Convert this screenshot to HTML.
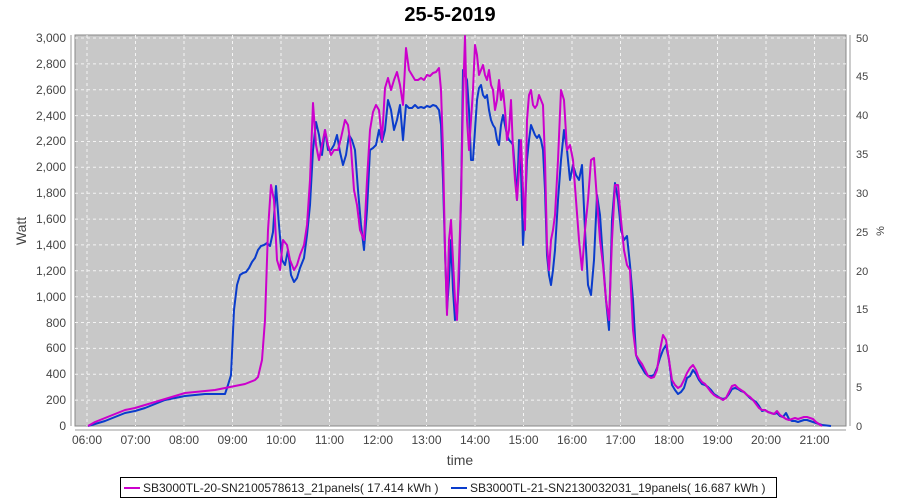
<!DOCTYPE html>
<html><head><meta charset="utf-8"><style>
html,body{margin:0;padding:0;background:#fff;}
svg{display:block;font-family:"Liberation Sans",sans-serif;}
</style></head><body>
<svg width="900" height="500" viewBox="0 0 900 500">
<text x="450" y="21" text-anchor="middle" font-size="20" font-weight="bold" fill="#000">25-5-2019</text>
<rect x="75" y="35" width="771" height="391" fill="#c8c8c8" stroke="#888" stroke-width="1"/>
<g stroke="#f4f4f4" stroke-width="1" stroke-dasharray="3,3">
<line x1="87" y1="35" x2="87" y2="426"/><line x1="135.5" y1="35" x2="135.5" y2="426"/><line x1="184" y1="35" x2="184" y2="426"/><line x1="232.5" y1="35" x2="232.5" y2="426"/><line x1="281" y1="35" x2="281" y2="426"/><line x1="329.5" y1="35" x2="329.5" y2="426"/><line x1="378" y1="35" x2="378" y2="426"/><line x1="426.5" y1="35" x2="426.5" y2="426"/><line x1="475" y1="35" x2="475" y2="426"/><line x1="523.5" y1="35" x2="523.5" y2="426"/><line x1="572" y1="35" x2="572" y2="426"/><line x1="620.5" y1="35" x2="620.5" y2="426"/><line x1="669" y1="35" x2="669" y2="426"/><line x1="717.5" y1="35" x2="717.5" y2="426"/><line x1="766" y1="35" x2="766" y2="426"/><line x1="814.5" y1="35" x2="814.5" y2="426"/>
<line x1="75" y1="400.1" x2="846" y2="400.1"/><line x1="75" y1="374.3" x2="846" y2="374.3"/><line x1="75" y1="348.4" x2="846" y2="348.4"/><line x1="75" y1="322.5" x2="846" y2="322.5"/><line x1="75" y1="296.7" x2="846" y2="296.7"/><line x1="75" y1="270.8" x2="846" y2="270.8"/><line x1="75" y1="244.9" x2="846" y2="244.9"/><line x1="75" y1="219.1" x2="846" y2="219.1"/><line x1="75" y1="193.2" x2="846" y2="193.2"/><line x1="75" y1="167.3" x2="846" y2="167.3"/><line x1="75" y1="141.5" x2="846" y2="141.5"/><line x1="75" y1="115.6" x2="846" y2="115.6"/><line x1="75" y1="89.7" x2="846" y2="89.7"/><line x1="75" y1="63.9" x2="846" y2="63.9"/><line x1="75" y1="38" x2="846" y2="38"/>
</g>
<g stroke="#999" stroke-width="1" fill="none">
<line x1="71" y1="35" x2="71" y2="426"/>
<line x1="75" y1="430" x2="846" y2="430"/>
<line x1="850" y1="35" x2="850" y2="426"/>
</g>
<g font-size="12" fill="#444" text-anchor="end">
<text x="66" y="430">0</text><text x="66" y="404">200</text><text x="66" y="378">400</text><text x="66" y="352">600</text><text x="66" y="327">800</text><text x="66" y="301">1,000</text><text x="66" y="275">1,200</text><text x="66" y="249">1,400</text><text x="66" y="223">1,600</text><text x="66" y="197">1,800</text><text x="66" y="171">2,000</text><text x="66" y="145">2,200</text><text x="66" y="120">2,400</text><text x="66" y="94">2,600</text><text x="66" y="68">2,800</text><text x="66" y="42">3,000</text>
</g>
<g font-size="11" fill="#444">
<text x="856" y="430">0</text><text x="856" y="391">5</text><text x="856" y="352">10</text><text x="856" y="313">15</text><text x="856" y="275">20</text><text x="856" y="236">25</text><text x="856" y="197">30</text><text x="856" y="158">35</text><text x="856" y="119">40</text><text x="856" y="80">45</text><text x="856" y="42">50</text>
</g>
<g font-size="12" fill="#444" text-anchor="middle">
<text x="87" y="444">06:00</text><text x="135.5" y="444">07:00</text><text x="184" y="444">08:00</text><text x="232.5" y="444">09:00</text><text x="281" y="444">10:00</text><text x="329.5" y="444">11:00</text><text x="378" y="444">12:00</text><text x="426.5" y="444">13:00</text><text x="475" y="444">14:00</text><text x="523.5" y="444">15:00</text><text x="572" y="444">16:00</text><text x="620.5" y="444">17:00</text><text x="669" y="444">18:00</text><text x="717.5" y="444">19:00</text><text x="766" y="444">20:00</text><text x="814.5" y="444">21:00</text>
</g>
<text x="460" y="465" text-anchor="middle" font-size="14" fill="#444">time</text>
<text transform="translate(26,231) rotate(-90)" text-anchor="middle" font-size="14" fill="#444">Watt</text>
<text transform="translate(884,231) rotate(-90)" text-anchor="middle" font-size="11" fill="#444">%</text>
<polyline fill="none" stroke="#0a3ccc" stroke-width="2" stroke-linejoin="round" points="88,426 95,424 105,421 115,417 125,413 135,411 145,408 155,404 165,400 175,398 185,396 195,395 205,394 215,394 225,394 228,385 231,375 234,310 237,285 240,275 243,273 246,272 249,268 252,262 255,258 258,250 261,246 264,245 267,243 270,246 273,232 276,186 279,225 282,260 285,265 288,250 291,275 294,282 297,278 300,268 304,258 307,235 310,205 313,150 316,122 319,135 322,155 325,130 328,150 331,150 334,145 337,135 340,152 343,165 346,155 349,135 352,140 355,150 358,190 361,225 364,250 367,210 370,150 373,148 376,145 379,130 382,142 385,130 388,100 391,110 394,130 397,120 400,105 403,140 406,105 409,108 412,108 415,105 418,108 421,107 424,108 427,106 430,107 433,105 436,106 439,110 441,125 443,180 445,250 447,310 449,280 451,240 453,290 455,320 457,315 459,280 461,200 463,70 465,75 467,80 469,110 471,160 473,160 475,130 477,100 479,88 481,85 483,95 485,98 487,95 489,110 491,120 493,125 495,128 497,140 499,145 501,125 503,115 505,125 507,135 509,140 511,142 513,145 515,170 517,200 519,140 521,170 523,245 525,210 527,160 529,140 531,125 533,130 535,135 537,138 539,135 541,140 543,150 545,190 547,255 549,275 551,285 553,270 555,250 558,200 561,160 564,130 567,150 570,180 573,165 576,175 579,180 582,165 585,230 588,285 591,295 594,260 597,195 600,215 603,260 606,300 609,330 612,220 615,183 618,200 621,230 624,240 627,236 630,265 633,300 636,355 639,363 642,368 645,373 648,376 651,376 654,375 657,368 660,358 663,350 666,345 669,360 672,385 675,390 678,394 681,392 684,388 687,378 690,376 693,370 696,374 699,380 702,384 705,385 708,387 711,390 714,394 717,396 720,398 723,399 726,398 729,394 732,389 735,388 738,389 741,391 744,392 747,395 750,398 753,400 756,402 759,406 762,411 765,410 768,412 771,413 774,414 777,413 780,416 783,417 786,413 789,419 792,421 795,421 798,422 801,421 804,420 807,420 810,421 813,422 816,423 819,424 822,425 831,426"/>
<polyline fill="none" stroke="#cc00cc" stroke-width="2" stroke-linejoin="round" points="88,426 95,422 105,418 115,414 125,410 135,408 145,405 155,402 165,399 175,396 185,393 195,392 205,391 215,390 225,388 235,386 245,384 255,380 258,377 262,360 265,320 268,230 271,185 274,200 277,260 280,270 283,240 287,245 290,260 294,270 297,265 300,255 304,245 307,225 310,180 313,103 316,145 319,160 322,145 325,130 328,145 331,155 334,150 338,150 341,138 345,120 348,125 351,148 354,190 357,205 360,230 364,240 367,180 370,130 373,112 376,105 379,110 382,140 385,88 388,78 391,90 394,80 397,72 400,85 403,105 406,48 409,70 412,75 415,80 418,80 421,78 424,80 427,75 430,76 433,73 436,72 439,68 441,90 443,150 445,250 447,315 449,240 451,220 453,260 455,300 457,320 459,260 461,200 463,100 465,36 467,120 469,150 471,120 473,90 475,45 477,55 479,75 481,70 483,65 485,75 487,80 489,70 491,85 493,90 495,110 497,100 499,80 501,100 503,90 505,110 507,140 509,130 511,100 513,150 515,180 517,200 519,170 521,140 523,190 525,230 527,120 529,95 531,90 533,105 535,108 537,105 539,95 541,100 543,105 545,160 547,245 549,270 551,240 553,230 555,215 558,160 561,90 564,100 567,150 570,145 573,160 576,200 579,240 582,270 585,230 588,200 591,160 594,158 597,200 600,240 603,265 606,300 609,320 612,240 615,185 618,185 621,220 624,250 627,265 630,270 633,330 636,355 639,360 642,364 645,370 648,376 651,378 654,377 657,370 660,350 663,335 666,340 669,360 672,380 675,385 678,388 681,386 684,380 687,373 690,368 693,365 696,370 699,378 702,382 705,384 708,388 711,392 714,395 717,397 720,398 723,400 726,398 729,392 732,386 735,385 738,388 741,390 744,392 747,395 750,397 753,400 756,404 759,408 762,410 765,410 768,412 771,413 774,414 777,411 780,415 783,417 786,419 789,420 792,419 795,418 798,419 801,418 804,417 807,417 810,418 813,419 816,422 819,424 822,426"/>
<rect x="120.5" y="477.5" width="656" height="20" fill="#fff" stroke="#000" stroke-width="1"/>
<line x1="124" y1="488" x2="140" y2="488" stroke="#cc00cc" stroke-width="2"/>
<text x="143" y="492" font-size="12" fill="#222">SB3000TL-20-SN2100578613_21panels( 17.414 kWh )</text>
<line x1="451" y1="488" x2="467" y2="488" stroke="#0a3ccc" stroke-width="2"/>
<text x="470" y="492" font-size="12" fill="#222">SB3000TL-21-SN2130032031_19panels( 16.687 kWh )</text>
</svg>
</body></html>
